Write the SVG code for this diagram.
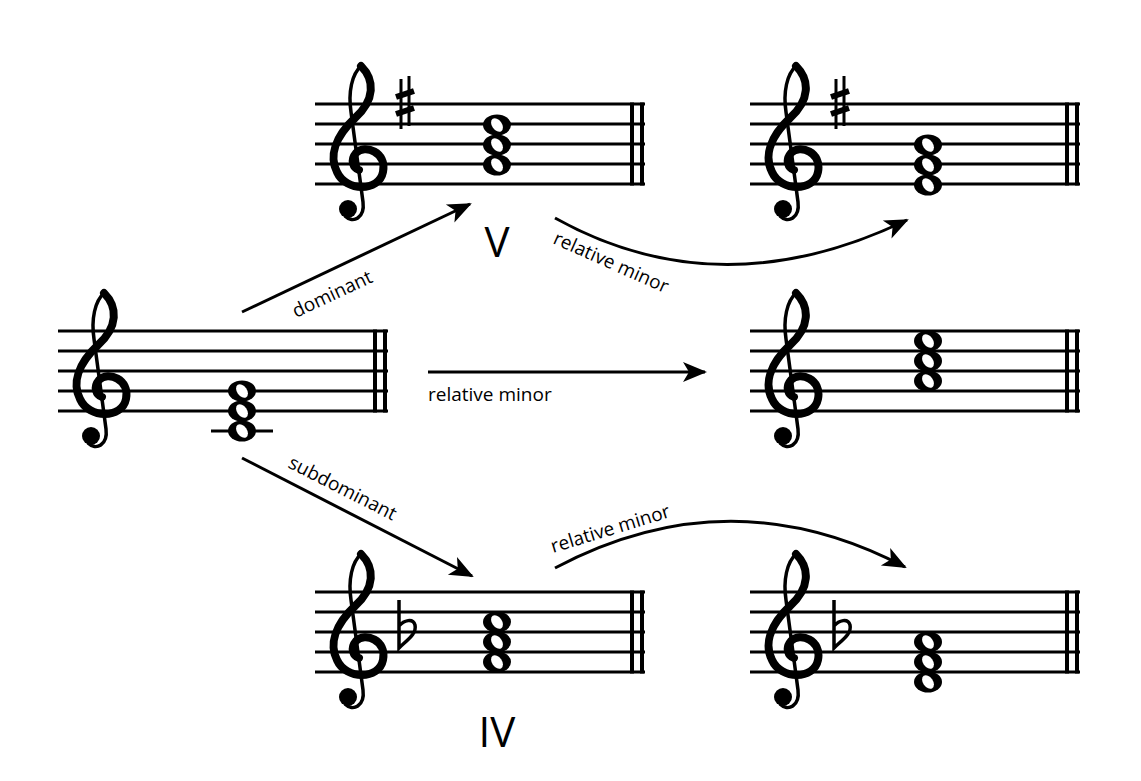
<svg xmlns="http://www.w3.org/2000/svg" width="1141" height="781" viewBox="0 0 1141 781">
<style>
.st{stroke:#000;stroke-width:3;fill:none}
.bar{stroke:#000;stroke-width:4}
.con{stroke:#000;stroke-width:3;fill:none}
.lbl{font-family:"Open Sans","Noto Sans",sans-serif;font-size:19px;fill:#000}
.big{font-family:"Open Sans","Noto Sans",sans-serif;font-size:42px;fill:#000}
</style>
<defs>
<marker id="ah" refX="22" refY="0" markerWidth="30" markerHeight="30" markerUnits="userSpaceOnUse" orient="auto" style="overflow:visible">
<path d="M0,-10 L24,0 L0,10 L6,0 Z" fill="#000"/>
</marker>
<g id="staff">
<path class="st" d="M0 0H330M0 20H330M0 40H330M0 60H330M0 80H330"/>
<line class="bar" x1="317" y1="-1.5" x2="317" y2="81.5"/>
<line class="bar" x1="327" y1="-1.5" x2="327" y2="81.5"/>
</g>
<g id="clef">
<path d="M46 -38 C60 -24 60 -4 40 14 C20 33 14 52 22 68 C31 88 64 88 68 68 C72 48 50 40 41 49 C35 56 38 64 44 66" stroke="#000" stroke-width="8" fill="none" stroke-linecap="round"/>
<path d="M46 -38 C37 -30 33 -12 36 8 L48 98 C50 114 38 120 30 112" stroke="#000" stroke-width="3.5" fill="none"/>
<circle cx="33" cy="105" r="9"/>
</g>
<g id="note">
<ellipse rx="14" ry="10.5" fill="#000"/>
<ellipse rx="5" ry="7.5" transform="rotate(-35)" fill="#fff"/>
</g>
<g id="sharp">
<path d="M-4 -25V25M4 -28V22" stroke="#000" stroke-width="3"/>
<path d="M-9 -7L9 -13M-9 10L9 4" stroke="#000" stroke-width="6"/>
</g>
<g id="flat">
<path d="M0 -28V20C8 12 18 6 16 -3C14 -10 5 -8 0 -2" stroke="#000" stroke-width="3.5" fill="none"/>
</g>
</defs>

<g id="node-C">
<use href="#staff" x="58" y="331"/>
<use href="#clef" x="58" y="331"/>
<line x1="211" y1="431" x2="273" y2="431" stroke="#000" stroke-width="3"/>
<use href="#note" x="242" y="391"/>
<use href="#note" x="242" y="411"/>
<use href="#note" x="242" y="431"/>
</g>

<g id="node-G">
<use href="#staff" x="315" y="104"/>
<use href="#clef" x="315" y="104"/>
<use href="#sharp" x="405" y="104"/>
<use href="#note" x="497" y="125"/>
<use href="#note" x="497" y="145"/>
<use href="#note" x="497" y="165"/>
<text class="big" x="497" y="257" text-anchor="middle">V</text>
</g>

<g id="node-Em">
<use href="#staff" x="750" y="104"/>
<use href="#clef" x="750" y="104"/>
<use href="#sharp" x="840" y="104"/>
<use href="#note" x="928" y="145"/>
<use href="#note" x="928" y="165"/>
<use href="#note" x="928" y="185"/>
</g>

<g id="node-Am">
<use href="#staff" x="750" y="331"/>
<use href="#clef" x="750" y="331"/>
<use href="#note" x="928" y="341"/>
<use href="#note" x="928" y="361"/>
<use href="#note" x="928" y="381"/>
</g>

<g id="node-F">
<use href="#staff" x="315" y="592"/>
<use href="#clef" x="315" y="592"/>
<use href="#flat" x="399" y="628"/>
<use href="#note" x="497" y="622"/>
<use href="#note" x="497" y="642"/>
<use href="#note" x="497" y="662"/>
<text class="big" x="497" y="747" text-anchor="middle">IV</text>
</g>

<g id="node-Dm">
<use href="#staff" x="750" y="592"/>
<use href="#clef" x="750" y="592"/>
<use href="#flat" x="834" y="628"/>
<use href="#note" x="928" y="642"/>
<use href="#note" x="928" y="662"/>
<use href="#note" x="928" y="682"/>
</g>

<g id="connectors">
<path class="con" d="M242 312 L470 204" marker-end="url(#ah)"/>
<path class="con" d="M428 372 L705 372" marker-end="url(#ah)"/>
<path class="con" d="M242 458 L472 576" marker-end="url(#ah)"/>
<path class="con" d="M555 218 Q720 310 907 220" marker-end="url(#ah)"/>
<path class="con" d="M555 568 Q730 475 905 567" marker-end="url(#ah)"/>
<text class="lbl" transform="translate(296,318) rotate(-25)">dominant</text>
<text class="lbl" transform="translate(552,243) rotate(24)">relative minor</text>
<text class="lbl" x="428" y="401">relative minor</text>
<text class="lbl" transform="translate(287,467) rotate(27)">subdominant</text>
<text class="lbl" transform="translate(553,553) rotate(-17)">relative minor</text>
</g>
</svg>
